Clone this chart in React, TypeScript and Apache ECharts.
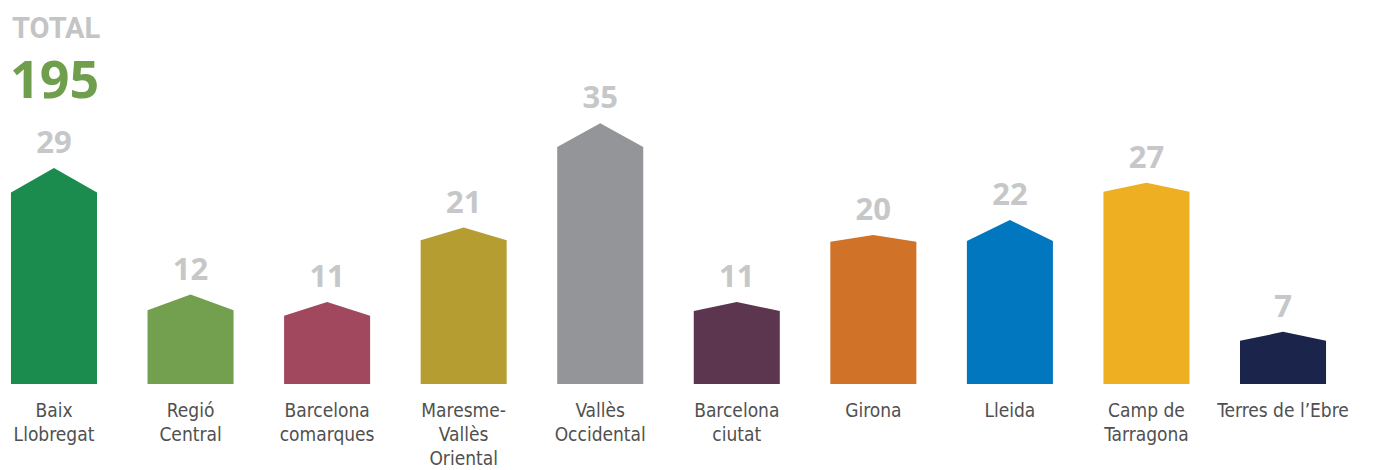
import React, { useEffect, useRef } from "react";
import * as echarts from "echarts";

const categories = [
  "Baix\nLlobregat",
  "Regió\nCentral",
  "Barcelona\ncomarques",
  "Maresme-\nVallès\nOriental",
  "Vallès\nOccidental",
  "Barcelona\nciutat",
  "Girona",
  "Lleida",
  "Camp de\nTarragona",
  "Terres de l’Ebre",
];
const values = [29, 12, 11, 21, 35, 11, 20, 22, 27, 7];
// depth of each bar's roof, in value units
const roofs = [3.3, 2.1, 1.85, 1.7, 3.2, 1.2, 0.9, 2.8, 1.2, 1.2];
const colors = [
  "#1c8c4e",
  "#72a04f",
  "#a1485f",
  "#b59d32",
  "#949599",
  "#5c364f",
  "#d07228",
  "#0077be",
  "#eeb022",
  "#1b244a",
];
const totalLabel = "TOTAL";
const totalValue = values.reduce((a, b) => a + b, 0);

const SHIFT = 20;

export default function App() {
  const ref = useRef<HTMLDivElement>(null);
  useEffect(() => {
    if (!ref.current) return;
    const chart = echarts.init(ref.current, undefined, { renderer: "svg" });
    const labelFont =
      "'DejaVu Sans Condensed', 'Liberation Sans Narrow', 'Roboto', sans-serif";
    chart.setOption({
      animation: false,
      backgroundColor: "#ffffff",
      grid: { left: SHIFT - 14.3, right: 21.7, top: 11.5, bottom: 81 },
      xAxis: {
        type: "category",
        data: categories,
        axisLine: { show: false },
        axisTick: { show: false },
        axisLabel: {
          interval: 0,
          margin: 14,
          color: "#505050",
          fontSize: 19,
          lineHeight: 24,
          fontFamily: labelFont,
        },
      },
      yAxis: {
        type: "value",
        min: 0,
        max: 50,
        show: false,
        splitLine: { show: false },
      },
      graphic: [
        {
          type: "text",
          left: SHIFT + 12,
          top: 13,
          style: {
            text: totalLabel,
            fill: "#c3c4c6",
            font: "bold 29px 'Roboto', sans-serif",
            lineHeight: 28,
          },
        },
        {
          type: "text",
          left: SHIFT + 10,
          top: 51,
          style: {
            text: String(totalValue),
            fill: "#6f9e4c",
            font: "bold 52px 'Open Sans', sans-serif",
            lineHeight: 52,
          },
        },
      ],
      series: [
        {
          type: "custom",
          data: values.map((v, i) => [i, v, roofs[i]]),
          renderItem: (params: any, api: any) => {
            const i = api.value(0);
            const v = api.value(1);
            const r = api.value(2);
            const base = api.coord([i, 0]);
            const peak = api.coord([i, v]);
            const shoulder = api.coord([i, v - r]);
            const w = api.size([1, 0])[0] * 0.63;
            const cx = base[0];
            const x0 = cx - w / 2;
            const x1 = cx + w / 2;
            return {
              type: "group",
              children: [
                {
                  type: "polygon",
                  shape: {
                    points: [
                      [x0, base[1]],
                      [x0, shoulder[1]],
                      [cx, peak[1]],
                      [x1, shoulder[1]],
                      [x1, base[1]],
                    ],
                  },
                  style: { fill: colors[params.dataIndex] },
                },
                {
                  type: "text",
                  x: cx,
                  y: peak[1] - 27,
                  style: {
                    text: String(v),
                    fill: "#c6c7c8",
                    font: "bold 31px 'Open Sans', sans-serif",
                    align: "center",
                    verticalAlign: "middle",
                  },
                },
              ],
            };
          },
        },
      ],
    });
    return () => chart.dispose();
  }, []);
  return (
    <div
      ref={ref}
      style={{
        position: "absolute",
        left: -SHIFT,
        top: 0,
        width: 1373 + SHIFT,
        height: 470,
      }}
    />
  );
}
